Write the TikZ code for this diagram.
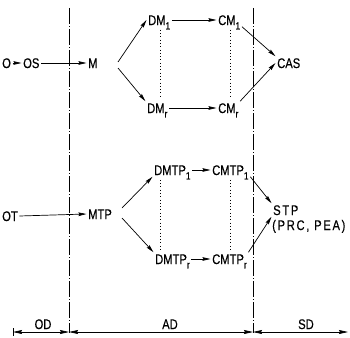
\documentclass[tikz,border=0pt]{standalone}
\usepackage{fontspec}
\setmainfont{Liberation Sans}[FakeStretch=0.8,FakeBold=0.4]
\newfontfamily\spacedfont{Liberation Sans}[FakeStretch=0.8,FakeBold=0.4,LetterSpace=12]
\usetikzlibrary{arrows.meta,calc}
% lowered index, as in DM_1, CMTP_r
\newcommand\lowidx[1]{\raisebox{-0.6ex}{\fontsize{10.5}{11}\selectfont #1}}

\begin{document}
\begin{tikzpicture}[x=1pt,y=-1pt,
  lbl/.style={font=\fontsize{14}{16}\selectfont, inner sep=1.5pt,
              text height=10.1pt, text depth=0pt, anchor=west},
  arr/.style={line width=0.7pt, -{Stealth[length=8pt,width=3.6pt,inset=1pt]}},
  dimarr/.style={line width=0.7pt, {Stealth[length=9pt,width=4pt,inset=1pt]}-{Stealth[length=9pt,width=4pt,inset=1pt]}},
  border/.style={line width=0.6pt, dash pattern=on 16pt off 2pt on 1pt off 2pt},
  dots/.style={line width=0.7pt, dash pattern=on 0.7pt off 2.6pt}]

\useasboundingbox (0,0) rectangle (350,337);

% domain borders
\coordinate (b1t) at (69,8);   \coordinate (b1b) at (69,333);
\coordinate (b2t) at (253,8);  \coordinate (b2b) at (253,333);
\draw[border] (b1t) -- (b1b);
\draw[border] (b2t) -- (b2b);

% upper chain
\node[lbl] (o)   at (0.5,63)  {O};
\node[lbl] (os)  at (21.5,63) {OS};
\node[lbl] (m)   at (86.5,63) {M};
\node[lbl] (dm1) at (146.5,20) {DM\lowidx{1}};
\node[lbl] (cm1) at (216.5,20) {CM\lowidx{1}};
\node[lbl] (dmr) at (145.5,108) {DM\lowidx{r}};
\node[lbl] (cmr) at (216.5,108) {CM\lowidx{r}};
\node[lbl] (cas) at (275.5,63) {CAS};

\coordinate (mf1) at (118,62);
\coordinate (mf2) at (118,68);

\draw[arr] (o.east) -- (os.west);
\draw[arr] (os.east) -- (m.west);
\draw[arr] (mf1) -- (dm1.west);
\draw[arr] (mf2) -- (dmr.north west);
\draw[arr] (dm1.east) -- (cm1.west);
\draw[arr] (dmr.east) -- (cmr.west);
\draw[arr] (cm1.south east) -- (cas.north west);
\draw[arr] (cmr.north east) -- (cas.west);
\draw[dots] ($(dm1.south west)+(13.5,3)$) -- ($(dmr.north west)+(14.5,-3)$);
\draw[dots] ($(cm1.south west)+(13.5,3)$) -- ($(cmr.north west)+(13.5,-3)$);

% lower chain
\node[lbl] (ot)     at (0.5,216)  {OT};
\node[lbl] (mtp)    at (86.5,214) {MTP};
\node[lbl] (dmtp1)  at (152.5,170) {DMTP\lowidx{1}};
\node[lbl] (cmtp1)  at (210.5,170) {CMTP\lowidx{1}};
\node[lbl] (dmtpr)  at (153.5,259) {DMTP\lowidx{r}};
\node[lbl] (cmtpr)  at (210.5,259) {CMTP\lowidx{r}};
\node[lbl] (stp)    at (271.5,210) {\spacedfont STP};
\node[lbl] (prc)    at (270.5,225) {\spacedfont (PRC, PEA)};

\coordinate (tf1) at (122,208);
\coordinate (tf2) at (122,218);

\draw[arr] (ot.east) -- (mtp.west);
\draw[arr] (tf1) -- (dmtp1.south west);
\draw[arr] (tf2) -- (dmtpr.north west);
\draw[arr] (dmtp1.east) -- (cmtp1.west);
\draw[arr] (dmtpr.east) -- (cmtpr.west);
\draw[arr] (cmtp1.south east) -- (stp.north west);
\draw[arr] (cmtpr.north east) -- (stp.south west);
\draw[dots] ($(dmtp1.south west)+(7.5,3)$) -- ($(dmtpr.north west)+(6.5,-3)$);
\draw[dots] ($(cmtp1.south west)+(19.5,3)$) -- ($(cmtpr.north west)+(19.5,-3)$);

% extent of the domains
\coordinate (d0) at (13,332);
\coordinate (d1) at (69,332);
\coordinate (d2) at (253,332);
\coordinate (d3) at (348,332);
\draw[line width=0.7pt] (13,328) -- (13,336);
\draw[dimarr] (d0) -- (d1);
\draw[dimarr] (d1) -- (d2);
\draw[dimarr] (d2) -- (d3);
\node[lbl, anchor=center] (od) at (43,324) {OD};
\node[lbl, anchor=center] (ad) at (170,324) {AD};
\node[lbl, anchor=center] (sd) at (306,324) {SD};
\end{tikzpicture}
\end{document}
